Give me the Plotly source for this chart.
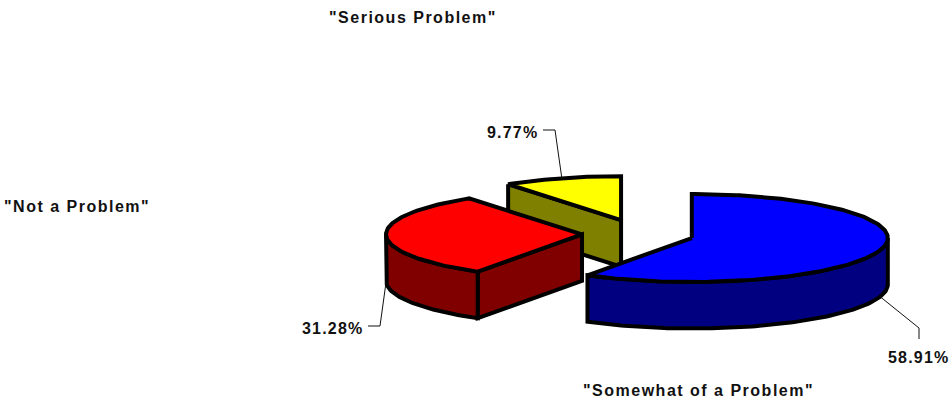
import math
import plotly.graph_objects as go

# Data
categories = ['"Somewhat of a Problem"', '"Not a Problem"', '"Serious Problem"']
values = [58.91, 31.28, 9.77]
value_labels = ["58.91%", "31.28%", "9.77%"]
top_colors = ["#0000FF", "#FF0000", "#FFFF00"]
side_colors = ["#000080", "#800000", "#808000"]

# Category label placement (pixel space)
cat_pos = [(698, 390), (77, 206), (413, 17)]
# Value label centres and leader elbows relative to slice edge
val_pos = [(918, 357), (332, 328), (512, 132)]
leader_elbows = [[(919, 328), (919, 339)], [(380, 326), (368, 326)], [(555, 130), (543, 130)]]
leader_on_side = [True, True, False]

# Pie geometry (pixels)
CX, CY = 638, 234
RX, RY = 196, 44
DEPTH = 46.5
EXPLODE_X, EXPLODE_Y = 56, 14.5
LW = 4


def pt(ax, ay, deg, dy=0):
    t = math.radians(deg)
    return ax + RX * math.sin(t), ay - RY * math.cos(t) + dy


def arc(ax, ay, a0, a1, dy=0):
    n = max(2, int(abs(a1 - a0)) + 1)
    return [pt(ax, ay, a0 + (a1 - a0) * i / (n - 1), dy) for i in range(n)]


def poly(fig, pts, fill, closed=True):
    if closed:
        pts = pts + [pts[0]]
    fig.add_trace(go.Scatter(
        x=[p[0] for p in pts], y=[p[1] for p in pts], mode="lines",
        fill="toself" if closed else None, fillcolor=fill,
        line=dict(color="black", width=LW, shape="linear"),
        hoverinfo="skip", showlegend=False))


fig = go.Figure()
total = sum(values)
spans = []
a = 0.0
for v in values:
    spans.append((a, a + v / total * 360))
    a += v / total * 360

# Painted back to front: last slice first
for i in reversed(range(len(values))):
    a0, a1 = spans[i]
    mid = (a0 + a1) / 2
    ax = CX + EXPLODE_X * math.sin(math.radians(mid))
    ay = CY - EXPLODE_Y * math.cos(math.radians(mid))
    apex = (ax, ay)
    apex_low = (ax, ay + DEPTH)
    # radial walls facing the viewer
    if -math.sin(math.radians(a0)) > 0:
        e, eb = pt(ax, ay, a0), pt(ax, ay, a0, DEPTH)
        poly(fig, [e, apex, apex_low, eb], side_colors[i])
    if math.sin(math.radians(a1)) > 0:
        e, eb = pt(ax, ay, a1), pt(ax, ay, a1, DEPTH)
        poly(fig, [apex, e, eb, apex_low], side_colors[i])
    # rim
    r0, r1 = max(a0, 90), min(a1, 270)
    if r1 > r0:
        poly(fig, arc(ax, ay, r0, r1) + arc(ax, ay, r1, r0, DEPTH), side_colors[i])
    # top
    poly(fig, [apex] + arc(ax, ay, a0, a1), top_colors[i])

# Leaders, computed from slice mid-angle
for i in range(len(values)):
    a0, a1 = spans[i]
    mid = (a0 + a1) / 2
    ax = CX + EXPLODE_X * math.sin(math.radians(mid))
    ay = CY - EXPLODE_Y * math.cos(math.radians(mid))
    s = pt(ax, ay, mid, DEPTH if leader_on_side[i] else 0)
    pts = [s] + leader_elbows[i]
    fig.add_trace(go.Scatter(x=[p[0] for p in pts], y=[p[1] for p in pts], mode="lines",
                             line=dict(color="#111111", width=1), hoverinfo="skip", showlegend=False))


def spaced(t, sp):
    return f'<b><span style="letter-spacing:{sp}px">{t}</span></b>'


for t, (x, y) in zip(categories, cat_pos):
    fig.add_annotation(x=x, y=y, text=spaced(t, 1.5), showarrow=False, xanchor="center", yanchor="middle",
                       font=dict(family="Liberation Sans", size=16, color="#111111"))
for t, (x, y) in zip(value_labels, val_pos):
    fig.add_annotation(x=x, y=y, text=spaced(t, 1.2), showarrow=False, xanchor="center", yanchor="middle",
                       font=dict(family="Liberation Sans", size=16, color="#111111"))

fig.update_layout(
    width=950, height=402, margin=dict(l=0, r=0, t=0, b=0),
    paper_bgcolor="white", plot_bgcolor="white", showlegend=False,
    xaxis=dict(range=[0, 950], visible=False, fixedrange=True),
    yaxis=dict(range=[402, 0], visible=False, fixedrange=True),
)
fig.write_html("out.html", config={"displayModeBar": False},
               post_script="document.body.style.margin='0';document.documentElement.style.overflow='hidden';")
